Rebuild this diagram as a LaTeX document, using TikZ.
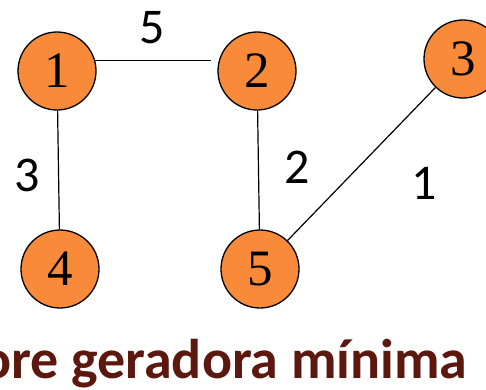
\documentclass[tikz,border=0pt]{standalone}
\usepackage{fontspec}
\usepackage{tikz}
\setmainfont{Liberation Serif}
\newfontfamily\lblfont{Carlito}
\definecolor{nodeorange}{RGB}{248,138,58}
\definecolor{titlered}{RGB}{92,24,14}
\tikzset{
  vert/.style={circle, draw, fill=nodeorange, line width=1.3pt,
    minimum size=78pt, inner sep=0pt, font=\rmfamily\fontsize{51}{60}\selectfont},
  wlabel/.style={font=\lblfont\fontsize{50}{60}\selectfont},
  ttlabel/.style={font=\lblfont\bfseries\fontsize{56}{64}\selectfont, text=titlered}
}
\begin{document}
\begin{tikzpicture}[x=1pt,y=-1pt]
\useasboundingbox (0,0) rectangle (486,389);
\node[vert] (v1) at (57,71) {1};
\node[vert] (v2) at (257,71) {2};
\node[vert] (v3) at (463,59) {3};
\node[vert] (v4) at (60,269) {4};
\node[vert] (v5) at (260,269) {5};
\draw[line width=1.2pt, shorten >=8pt] (v1.15) -- (v2.165);
\draw[line width=1.2pt] (v1) -- (v4);
\draw[line width=1.2pt] (v2) -- (v5);
\draw[line width=1.2pt] (v5) -- (v3);
\node[wlabel] (w12) at (152,28) {5};
\node[wlabel] (w14) at (27,175) {3};
\node[wlabel] (w25) at (297,167) {2};
\node[wlabel] (w35) at (424,183) {1};
\node[ttlabel, anchor=base east] (ttl) at (471,378) {Árvore geradora mínima};
\end{tikzpicture}
\end{document}
